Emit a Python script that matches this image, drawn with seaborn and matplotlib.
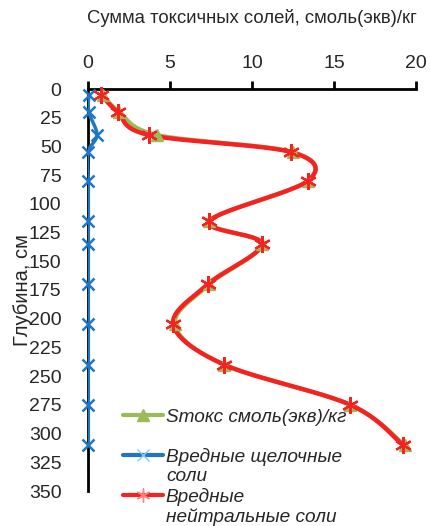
import numpy as np
import pandas as pd
import matplotlib
matplotlib.use("Agg")
import matplotlib.pyplot as plt
from matplotlib.lines import Line2D
import seaborn as sns

# Depth of sampling (cm) and salt contents, cmol(eq)/kg
depth = [5, 20, 40, 55, 80, 115, 135, 170, 205, 240, 275, 310]
total_salts = [0.9, 1.9, 4.2, 12.5, 13.4, 7.4, 10.6, 7.4, 5.3, 8.3, 16.0, 19.3]
alkaline_salts = [0.05, 0.05, 0.55, 0.0, 0.02, 0.02, 0.02, 0.02, 0.02, 0.02, 0.02, 0.02]
neutral_salts = [0.8, 1.8, 3.7, 12.4, 13.4, 7.4, 10.6, 7.3, 5.2, 8.3, 16.0, 19.2]

labels = ["Sтокс смоль(экв)/кг", "Вредные щелочные", "соли", "Вредные", "нейтральные соли"]
x_ticks = [0, 5, 10, 15, 20]
y_ticks = list(range(0, 351, 25))

GREEN = "#9BBB59"
BLUE = "#1F77C4"
RED = "#F52222"

sns.set_theme(style="white")
plt.rcParams["font.family"] = ["Liberation Sans", "DejaVu Sans"]

fig = plt.figure(figsize=(4.30, 5.26), dpi=100)
ax = fig.add_axes([88 / 430, 1 - 491 / 526, (416 - 88) / 430, (491 - 89) / 526])
ax.set_xlim(0, 20)
ax.set_ylim(350, 0)


def smooth(xs, ys, n=24):
    """Catmull-Rom curve through the points, computed in screen space."""
    pts = ax.transData.transform(np.column_stack([xs, ys]))
    p = np.vstack([pts[0], pts, pts[-1]])
    out = []
    t = np.linspace(0, 1, n, endpoint=False)[:, None]
    for i in range(1, len(p) - 2):
        p0, p1, p2, p3 = p[i - 1], p[i], p[i + 1], p[i + 2]
        c1 = p1 + (p2 - p0) / 6
        c2 = p2 - (p3 - p1) / 6
        seg = ((1 - t) ** 3) * p1 + 3 * ((1 - t) ** 2) * t * c1 + 3 * (1 - t) * t ** 2 * c2 + t ** 3 * p2
        out.append(seg)
    out.append(p[-2][None, :])
    curve = ax.transData.inverted().transform(np.vstack(out))
    return pd.DataFrame({"x": curve[:, 0], "y": curve[:, 1]})


series = [
    (total_salts, GREEN, "^", 9, 3.0, 1.0),
    (alkaline_salts, BLUE, "x", 9, 2.5, 1.8),
    (neutral_salts, RED, (6, 2, 0), 12, 3.2, 1.6),
]

for values, color, marker, ms, lw, mew in series:
    curve = smooth(values, depth)
    sns.lineplot(data=curve, x="x", y="y", sort=False, estimator=None,
                 color=color, linewidth=lw, ax=ax, zorder=3)
    ax.plot(values, depth, linestyle="none", marker=marker, markersize=ms,
            color=color, markeredgecolor=color, markeredgewidth=mew, zorder=4,
            clip_on=False)

# Axes: values on top, depth increasing downward
ax.xaxis.set_label_position("top")
ax.xaxis.tick_top()
ax.set_xticks(x_ticks)
ax.set_yticks(y_ticks)
ax.set_xlabel("Сумма токсичных солей, смоль(экв)/кг", fontsize=13.3, labelpad=23)
ax.set_ylabel("Глубина, см", fontsize=14.5, labelpad=-2)
ax.tick_params(axis="both", labelsize=14, direction="out", length=6, width=2,
               color="black")
ax.tick_params(axis="y", pad=13)
ax.tick_params(axis="x", pad=6)
for side in ("right", "bottom"):
    ax.spines[side].set_visible(False)
for side in ("left", "top"):
    ax.spines[side].set_color("black")
    ax.spines[side].set_linewidth(2)

# Legend: each entry takes two text rows, the handle sits on the first one
blank = Line2D([], [], linestyle="none")
handles = [
    Line2D([], [], color=GREEN, lw=3, marker="^", markersize=8, markeredgecolor=GREEN),
    Line2D([], [], color=BLUE, lw=3, marker="x", markersize=8, markeredgecolor="#8CC8F0", markeredgewidth=1),
    Line2D([], [], color=RED, lw=3, marker=(6, 2, 0), markersize=10, markeredgecolor="#FF8080", markeredgewidth=1),
]
legend_rows_h = [handles[0], blank, handles[1], blank, handles[2], blank]
legend_rows_l = [labels[0], " ", labels[1], labels[2], labels[3], labels[4]]
leg = ax.legend(legend_rows_h, legend_rows_l, loc="lower left",
                bbox_to_anchor=(0.107, -0.086), borderaxespad=0, borderpad=0,
                frameon=False, handlelength=2.1, handletextpad=0.15,
                labelspacing=0.12, prop={"size": 13.7, "style": "italic"})

fig.savefig("out.png", dpi=100)
